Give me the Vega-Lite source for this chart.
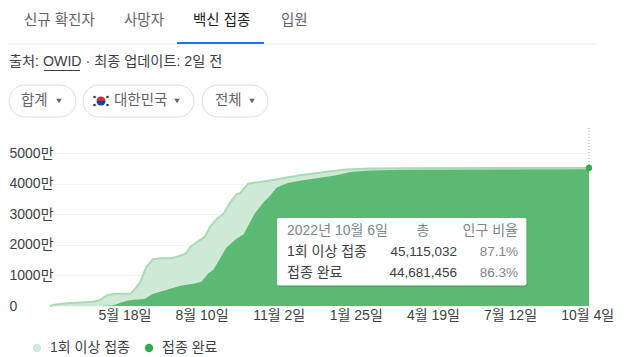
{
"$schema":"https://vega.github.io/schema/vega-lite/v6.json",
"autosize":"none","width":539,"height":176,
"padding":{"left":50,"top":130,"right":40,"bottom":51},
"background":"#ffffff",
"config":{"font":"Liberation Sans, Noto Sans CJK KR","view":{"stroke":null},"text":{"font":"Liberation Sans, Noto Sans CJK KR","fontSize":13.5,"align":"left","baseline":"middle"}},
"datasets":{"vax":[
{"date":"2021-02-26T00:00","series":"1회 이상 접종","value":0},{"date":"2021-03-03T00:00","series":"1회 이상 접종","value":44},{"date":"2021-03-11T00:00","series":"1회 이상 접종","value":76},{"date":"2021-03-23T00:00","series":"1회 이상 접종","value":98},{"date":"2021-04-03T00:00","series":"1회 이상 접종","value":120},{"date":"2021-04-14T00:00","series":"1회 이상 접종","value":142},{"date":"2021-04-21T00:00","series":"1회 이상 접종","value":185},{"date":"2021-04-29T00:00","series":"1회 이상 접종","value":348},{"date":"2021-05-06T00:00","series":"1회 이상 접종","value":392},{"date":"2021-05-17T00:00","series":"1회 이상 접종","value":403},{"date":"2021-05-25T00:00","series":"1회 이상 접종","value":403},{"date":"2021-05-30T00:00","series":"1회 이상 접종","value":566},{"date":"2021-06-04T00:00","series":"1회 이상 접종","value":762},{"date":"2021-06-11T00:00","series":"1회 이상 접종","value":1274},{"date":"2021-06-18T00:00","series":"1회 이상 접종","value":1525},{"date":"2021-06-26T00:00","series":"1회 이상 접종","value":1558},{"date":"2021-07-07T00:00","series":"1회 이상 접종","value":1558},{"date":"2021-07-14T00:00","series":"1회 이상 접종","value":1600},{"date":"2021-07-24T00:00","series":"1회 이상 접종","value":1710},{"date":"2021-07-29T00:00","series":"1회 이상 접종","value":1928},{"date":"2021-08-05T00:00","series":"1회 이상 접종","value":2090},{"date":"2021-08-14T00:00","series":"1회 이상 접종","value":2270},{"date":"2021-08-19T00:00","series":"1회 이상 접종","value":2580},{"date":"2021-08-27T00:00","series":"1회 이상 접종","value":2850},{"date":"2021-09-03T00:00","series":"1회 이상 접종","value":3010},{"date":"2021-09-10T00:00","series":"1회 이상 접종","value":3370},{"date":"2021-09-17T00:00","series":"1회 이상 접종","value":3640},{"date":"2021-09-21T00:00","series":"1회 이상 접종","value":3690},{"date":"2021-09-30T00:00","series":"1회 이상 접종","value":3997},{"date":"2021-10-09T00:00","series":"1회 이상 접종","value":4040},{"date":"2021-10-20T00:00","series":"1회 이상 접종","value":4085},{"date":"2021-10-31T00:00","series":"1회 이상 접종","value":4140},{"date":"2021-11-11T00:00","series":"1회 이상 접종","value":4200},{"date":"2021-11-25T00:00","series":"1회 이상 접종","value":4270},{"date":"2021-12-17T00:00","series":"1회 이상 접종","value":4357},{"date":"2021-12-24T00:00","series":"1회 이상 접종","value":4390},{"date":"2022-01-15T00:00","series":"1회 이상 접종","value":4465},{"date":"2022-02-10T00:00","series":"1회 이상 접종","value":4495},{"date":"2022-03-18T00:00","series":"1회 이상 접종","value":4505},{"date":"2022-10-06T00:00","series":"1회 이상 접종","value":4511.5},
{"date":"2021-04-21T00:00","series":"접종 완료","value":0},{"date":"2021-05-06T00:00","series":"접종 완료","value":22},{"date":"2021-05-13T00:00","series":"접종 완료","value":98},{"date":"2021-05-21T00:00","series":"접종 완료","value":174},{"date":"2021-05-28T00:00","series":"접종 완료","value":207},{"date":"2021-06-09T00:00","series":"접종 완료","value":229},{"date":"2021-06-17T00:00","series":"접종 완료","value":381},{"date":"2021-06-26T00:00","series":"접종 완료","value":468},{"date":"2021-07-07T00:00","series":"접종 완료","value":566},{"date":"2021-07-18T00:00","series":"접종 완료","value":664},{"date":"2021-08-01T00:00","series":"접종 완료","value":729},{"date":"2021-08-10T00:00","series":"접종 완료","value":795},{"date":"2021-08-17T00:00","series":"접종 완료","value":1056},{"date":"2021-08-23T00:00","series":"접종 완료","value":1187},{"date":"2021-08-30T00:00","series":"접종 완료","value":1547},{"date":"2021-09-06T00:00","series":"접종 완료","value":1906},{"date":"2021-09-17T00:00","series":"접종 완료","value":2200},{"date":"2021-09-25T00:00","series":"접종 완료","value":2345},{"date":"2021-09-30T00:00","series":"접종 완료","value":2640},{"date":"2021-10-07T00:00","series":"접종 완료","value":3020},{"date":"2021-10-16T00:00","series":"접종 완료","value":3370},{"date":"2021-10-24T00:00","series":"접종 완료","value":3620},{"date":"2021-10-31T00:00","series":"접종 완료","value":3870},{"date":"2021-11-11T00:00","series":"접종 완료","value":4010},{"date":"2021-11-25T00:00","series":"접종 완료","value":4090},{"date":"2021-12-17T00:00","series":"접종 완료","value":4190},{"date":"2022-01-04T00:00","series":"접종 완료","value":4270},{"date":"2022-01-19T00:00","series":"접종 완료","value":4378},{"date":"2022-02-10T00:00","series":"접종 완료","value":4430},{"date":"2022-03-18T00:00","series":"접종 완료","value":4455},{"date":"2022-10-06T00:00","series":"접종 완료","value":4468.1}
]},
"layer":[
{"encoding":{
  "x":{"field":"date","type":"temporal","scale":{"domain":[{"year":2021,"month":2,"date":26},{"year":2022,"month":10,"date":6}]},"title":null,
   "axis":{"values":[{"year":2021,"month":5,"date":18},{"year":2021,"month":8,"date":10},{"year":2021,"month":11,"date":2},{"year":2022,"month":1,"date":25},{"year":2022,"month":4,"date":19},{"year":2022,"month":7,"date":12},{"year":2022,"month":10,"date":4}],"labelExpr":"timeFormat(datum.value,'%-m월 %-d일')","domain":false,"ticks":false,"grid":false,"labelFontSize":14,"labelColor":"#3c4043","labelPadding":2,"labelOverlap":false,"labelFlush":false,"labelBound":false}},
  "y":{"field":"value","type":"quantitative","scale":{"domain":[0,5752],"nice":false},"title":null,
   "axis":{"values":[0,1000,2000,3000,4000,5000],"labelExpr":"datum.value===0?'0':datum.value+'만'","domain":false,"ticks":false,"grid":true,"gridColor":"#f1f3f4","labelAlign":"left","labelPadding":41,"labelFontSize":14,"labelColor":"#3c4043","labelOverlap":false,"labelBound":false,"labelFlush":false}}
 },
 "layer":[
{"data":{"name":"vax"},"transform":[{"filter":"datum.series==='1회 이상 접종'"}],"mark":{"type":"area","clip":false},
 "encoding":{
  "fill":{"field":"series","type":"nominal","scale":{"domain":["1회 이상 접종","접종 완료"],"range":["#ceead6","#34a853"]},
   "legend":{"orient":"none","legendX":-20,"legendY":211,"direction":"horizontal","title":null,"symbolType":"circle","symbolSize":70,"labelFontSize":14,"labelColor":"#3c4043","columnPadding":12,"labelOffset":6,"symbolStrokeWidth":1}}
 }},
{"data":{"name":"vax"},"transform":[{"filter":"datum.series==='1회 이상 접종'"}],"mark":{"type":"line","stroke":"#a8dab5","strokeWidth":2},"encoding":{}},
{"data":{"name":"vax"},"transform":[{"filter":"datum.series==='접종 완료'"}],"mark":{"type":"area","fill":"#5bb974"},"encoding":{}},
{"data":{"values":[{"date":"2022-10-06T00:00","value":4511.5}]},"mark":{"type":"rule","stroke":"#9aa0a6","strokeWidth":1,"strokeDash":[1,2]},"encoding":{"y2":{"value":-2}}},
{"data":{"values":[{"date":"2022-10-06T00:00","value":4511.5}]},"mark":{"type":"point","filled":true,"fill":"#34a853","opacity":1,"size":40},"encoding":{}}
 ]},

{"data":{"values":[{}]},"mark":{"type":"rect","x":228,"x2":477.5,"y":89,"y2":157,"fill":"#000000","opacity":0.13,"cornerRadius":2},"encoding":{}},
{"data":{"values":[{}]},"mark":{"type":"rect","x":227,"x2":476.5,"y":88,"y2":155.5,"fill":"#ffffff","cornerRadius":2},"encoding":{}},
{"data":{"values":[{}]},"mark":{"type":"text","text":"2022년 10월 6일","x":237,"y":101,"fontSize":14,"fill":"#80868b"},"encoding":{}},
{"data":{"values":[{}]},"mark":{"type":"text","text":"총","x":373,"y":101,"align":"center","fontSize":14,"fill":"#80868b"},"encoding":{}},
{"data":{"values":[{}]},"mark":{"type":"text","text":"인구 비율","x":468,"y":101,"align":"right","fontSize":14,"fill":"#80868b"},"encoding":{}},
{"data":{"values":[{}]},"mark":{"type":"text","text":"1회 이상 접종","x":237,"y":122,"fontSize":14,"fill":"#3c4043"},"encoding":{}},
{"data":{"values":[{}]},"mark":{"type":"text","text":"45,115,032","x":407,"y":122,"align":"right","fontSize":13.5,"fill":"#3c4043"},"encoding":{}},
{"data":{"values":[{}]},"mark":{"type":"text","text":"87.1%","x":468,"y":122,"align":"right","fontSize":13.5,"fill":"#80868b"},"encoding":{}},
{"data":{"values":[{}]},"mark":{"type":"text","text":"접종 완료","x":237,"y":143,"fontSize":14,"fill":"#3c4043"},"encoding":{}},
{"data":{"values":[{}]},"mark":{"type":"text","text":"44,681,456","x":407,"y":143,"align":"right","fontSize":13.5,"fill":"#3c4043"},"encoding":{}},
{"data":{"values":[{}]},"mark":{"type":"text","text":"86.3%","x":468,"y":143,"align":"right","fontSize":13.5,"fill":"#80868b"},"encoding":{}},

{"data":{"values":[{}]},"mark":{"type":"text","text":"신규 확진자","x":-26,"y":-109,"fontSize":14.5,"fill":"#5f6368"},"encoding":{}},
{"data":{"values":[{}]},"mark":{"type":"text","text":"사망자","x":74,"y":-109,"fontSize":14.5,"fill":"#5f6368"},"encoding":{}},
{"data":{"values":[{}]},"mark":{"type":"text","text":"백신 접종","x":143,"y":-109,"fontSize":14.5,"fill":"#202124"},"encoding":{}},
{"data":{"values":[{}]},"mark":{"type":"text","text":"입원","x":231,"y":-109,"fontSize":14.5,"fill":"#5f6368"},"encoding":{}},
{"data":{"values":[{}]},"mark":{"type":"rect","x":-42,"x2":547,"y":-86.5,"y2":-85.5,"fill":"#e8eaed"},"encoding":{}},
{"data":{"values":[{}]},"mark":{"type":"rect","x":127,"x2":214,"y":-88,"y2":-86,"fill":"#1a73e8"},"encoding":{}},
{"data":{"values":[{}]},"mark":{"type":"text","text":"출처: OWID · 최종 업데이트: 2일 전","x":-41,"y":-68,"fontSize":14.2,"fill":"#3c4043"},"encoding":{}},
{"data":{"values":[{}]},"mark":{"type":"rect","x":-6,"x2":30,"y":-60,"y2":-59,"fill":"#3c4043"},"encoding":{}},

{"data":{"values":[{}]},"mark":{"type":"rect","x":-41,"x2":26,"y":-45,"y2":-13,"fill":"#ffffff","stroke":"#dadce0","strokeWidth":1,"cornerRadius":16},"encoding":{}},
{"data":{"values":[{}]},"mark":{"type":"text","text":"합계","x":-29,"y":-29,"fontSize":14.5,"fill":"#5f6368"},"encoding":{}},
{"data":{"values":[{}]},"mark":{"type":"point","shape":"triangle-down","filled":true,"fill":"#5f6368","opacity":1,"size":30,"x":9,"y":-29},"encoding":{}},
{"data":{"values":[{}]},"mark":{"type":"rect","x":33,"x2":144,"y":-45,"y2":-13,"fill":"#ffffff","stroke":"#dadce0","strokeWidth":1,"cornerRadius":16},"encoding":{}},
{"data":{"values":[{}]},"mark":{"type":"arc","x":51,"y":-29,"radius":4.5,"theta":-1.5708,"theta2":1.5708,"fill":"#cd2e3a"},"encoding":{}},
{"data":{"values":[{}]},"mark":{"type":"arc","x":51,"y":-29,"radius":4.5,"theta":1.5708,"theta2":4.7124,"fill":"#0047a0"},"encoding":{}},
{"data":{"values":[{}]},"mark":{"type":"point","shape":"square","filled":true,"fill":"#333333","opacity":1,"size":5,"x":44.5,"y":-33},"encoding":{}},
{"data":{"values":[{}]},"mark":{"type":"point","shape":"square","filled":true,"fill":"#333333","opacity":1,"size":5,"x":57.5,"y":-33},"encoding":{}},
{"data":{"values":[{}]},"mark":{"type":"point","shape":"square","filled":true,"fill":"#333333","opacity":1,"size":5,"x":44.5,"y":-25},"encoding":{}},
{"data":{"values":[{}]},"mark":{"type":"point","shape":"square","filled":true,"fill":"#333333","opacity":1,"size":5,"x":57.5,"y":-25},"encoding":{}},
{"data":{"values":[{}]},"mark":{"type":"text","text":"대한민국","x":64,"y":-29,"fontSize":14.5,"fill":"#5f6368"},"encoding":{}},
{"data":{"values":[{}]},"mark":{"type":"point","shape":"triangle-down","filled":true,"fill":"#5f6368","opacity":1,"size":30,"x":127,"y":-29},"encoding":{}},
{"data":{"values":[{}]},"mark":{"type":"rect","x":152,"x2":218,"y":-45,"y2":-13,"fill":"#ffffff","stroke":"#dadce0","strokeWidth":1,"cornerRadius":16},"encoding":{}},
{"data":{"values":[{}]},"mark":{"type":"text","text":"전체","x":165,"y":-29,"fontSize":14.5,"fill":"#5f6368"},"encoding":{}},
{"data":{"values":[{}]},"mark":{"type":"point","shape":"triangle-down","filled":true,"fill":"#5f6368","opacity":1,"size":30,"x":202,"y":-29},"encoding":{}}
]
}
